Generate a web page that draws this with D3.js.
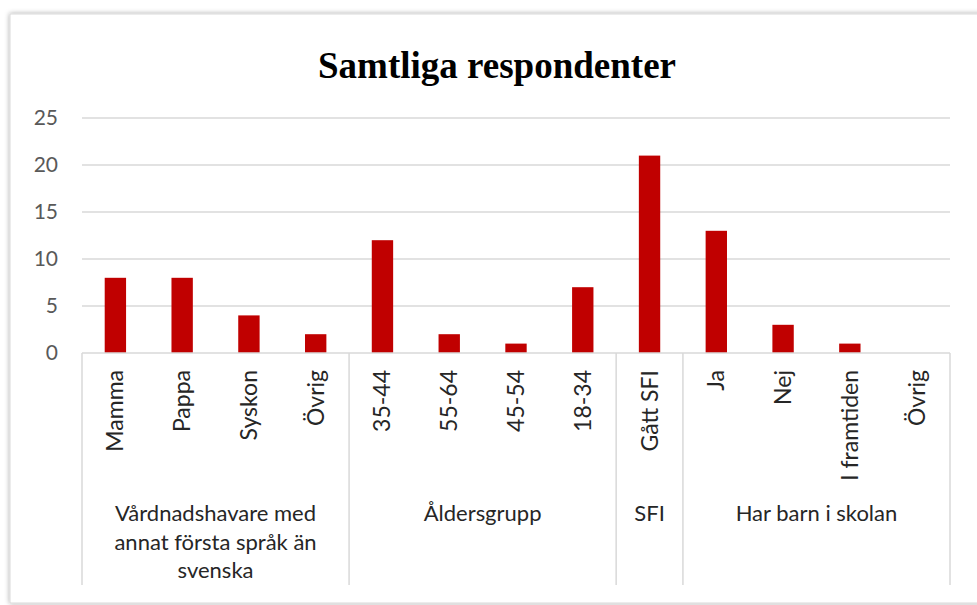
<!DOCTYPE html>
<html><head><meta charset="utf-8">
<script src="https://cdn.jsdelivr.net/npm/d3@7"></script>
<style>body{margin:0;background:#fff;} svg{display:block;}</style>
</head><body>
<svg id="c" width="977" height="605"></svg>
<script>
const categories = ["Mamma","Pappa","Syskon","Övrig","35-44","55-64","45-54","18-34","Gått SFI","Ja","Nej","I framtiden","Övrig"];
const values = [8,8,4,2,12,2,1,7,21,13,3,1,0];
const groups = [
  {name:["Vårdnadshavare med","annat första språk än","svenska"], count:4},
  {name:["Åldersgrupp"], count:4},
  {name:["SFI"], count:1},
  {name:["Har barn i skolan"], count:4}
];
const yTicks = [0,5,10,15,20,25];
const title = "Samtliga respondenter";

const svg = d3.select("#c");
const pL = 82, pR = 950, pT = 118, pB = 353;
const FONT = "Lato, 'Open Sans', sans-serif";

// frame with shadow
const defs = svg.append("defs");
const f = defs.append("filter").attr("id","sh").attr("x","-5%").attr("y","-5%").attr("width","110%").attr("height","110%");
f.append("feDropShadow").attr("dx",0).attr("dy",0).attr("stdDeviation",2.5).attr("flood-color","#000").attr("flood-opacity",0.35);
svg.append("rect").attr("x",10).attr("y",14).attr("width",985).attr("height",589)
  .attr("fill","#fff").attr("stroke","#d9d9d9").attr("filter","url(#sh)");

const x = d3.scaleBand().domain(d3.range(categories.length)).range([pL,pR]).paddingInner(0).paddingOuter(0);
const y = d3.scaleLinear().domain([0,25]).range([pB,pT]);

// gridlines
svg.append("g").selectAll("line").data(yTicks.filter(d=>d>0)).join("line")
  .attr("x1",pL).attr("x2",pR).attr("y1",d=>y(d)).attr("y2",d=>y(d))
  .attr("stroke","#d9d9d9").attr("stroke-width",1.5);

// y axis labels
const yAxis = d3.axisLeft(y).tickValues(yTicks).tickSize(0).tickPadding(0).tickFormat(d3.format("d"));
const ya = svg.append("g").attr("transform",`translate(${pL-24},0)`).call(yAxis);
ya.select(".domain").remove();
ya.selectAll("text").attr("fill","#595959").style("font-family",FONT).style("font-size","21px");

// bars
const bw = x.bandwidth()*0.32;
svg.append("g").selectAll("rect").data(values).join("rect")
  .attr("x",(d,i)=>x(i)+x.bandwidth()/2-bw/2)
  .attr("width",bw)
  .attr("y",d=>y(d))
  .attr("height",d=>y(0)-y(d))
  .attr("fill","#c00000");

// baseline & group separators
const lineCol = "#d9d9d9";
svg.append("line").attr("x1",pL).attr("x2",pR).attr("y1",pB).attr("y2",pB).attr("stroke",lineCol).attr("stroke-width",1.5);
let idx = 0;
const bounds = [0];
groups.forEach(g=>{ idx += g.count; bounds.push(idx); });
svg.append("g").selectAll("line").data(bounds).join("line")
  .attr("x1",d=> d<categories.length ? x(d) : pR).attr("x2",d=> d<categories.length ? x(d) : pR)
  .attr("y1",pB).attr("y2",585).attr("stroke",lineCol).attr("stroke-width",1.5);

// category labels
svg.append("g").selectAll("text").data(categories).join("text")
  .attr("transform",(d,i)=>`translate(${x(i)+x.bandwidth()/2+8},370) rotate(-90)`)
  .attr("text-anchor","end")
  .attr("fill","#262626")
  .style("font-family",FONT).style("font-size","23px")
  .text(d=>d);

// group labels
groups.forEach((g,gi)=>{
  const cx = (x(bounds[gi]) + (bounds[gi+1]<categories.length ? x(bounds[gi+1]) : pR))/2;
  const t = svg.append("text").attr("text-anchor","middle").attr("fill","#262626")
    .style("font-family",FONT).style("font-size","22px");
  g.name.forEach((ln,li)=>{
    t.append("tspan").attr("x",cx).attr("y",521+li*28.5).text(ln);
  });
});

// title
svg.append("text").attr("x",497).attr("y",78).attr("text-anchor","middle")
  .style("font-family","'Liberation Serif', 'Times New Roman', serif").style("font-weight","bold").style("font-size","37px")
  .attr("fill","#000").text(title);
</script>
</body></html>
